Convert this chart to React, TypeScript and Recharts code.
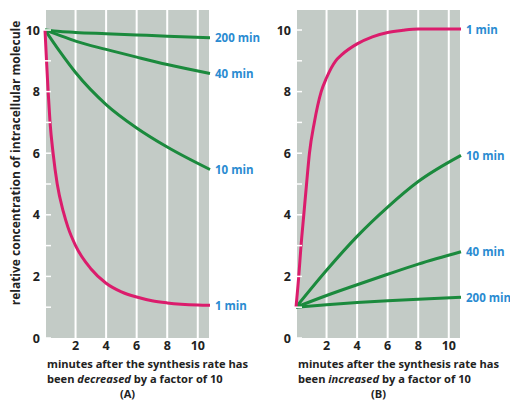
import { CartesianGrid, LabelList, Line, LineChart, XAxis, YAxis } from "recharts"

// (A) synthesis rate decreased 10x
const decTimeOne = [0, 0.1, 0.2, 0.33, 0.53, 0.8, 1.2, 1.5, 2, 3, 4, 5, 6, 7, 8, 10, 10.8]
const decOne = [10, 9.0, 8.05, 7.0, 6.0, 5.0, 4.1, 3.6, 3.0, 2.25, 1.78, 1.5, 1.33, 1.21, 1.14, 1.07, 1.06]
const decTime = [0, 1, 2, 4, 6, 8, 10.8]
const decTen = [10, 9.28, 8.62, 7.58, 6.82, 6.2, 5.47]
const decForty = [10, 9.82, 9.64, 9.37, 9.12, 8.88, 8.59]
const decTwoHundred = [10, 9.95, 9.92, 9.88, 9.84, 9.8, 9.75]

// (B) synthesis rate increased 10x
const incTimeOne = [0, 0.18, 0.33, 0.51, 0.69, 0.88, 1.2, 1.65, 2, 2.6, 3, 4, 5, 6, 7, 8, 10.8]
const incOne = [1, 2, 3, 4, 5, 6, 7, 8, 8.45, 9.0, 9.2, 9.55, 9.78, 9.92, 9.99, 10.03, 10.03]
const incTime = [0, 2, 4, 6, 8, 10.8]
const incTen = [1, 2.2, 3.3, 4.25, 5.08, 5.93]
const incForty = [1, 1.38, 1.73, 2.07, 2.4, 2.8]
const incTwoHundred = [1, 1.08, 1.15, 1.21, 1.26, 1.32]

const xTicks = [2, 4, 6, 8, 10]
const yTicks = [0, 1, 2, 3, 4, 5, 6, 7, 8, 9, 10]

const GREEN = "#1b8a3d"
const MAGENTA = "#db1c6c"
const BLUE = "#2a8bd1"
const GRAY = "#c3cbc6"
const FONT = "'Open Sans', sans-serif"

const toPoints = (time: number[], vals: number[], tag: string) =>
  time.map((t, i) => ({ t, v: vals[i], tag: i === time.length - 1 ? tag : undefined }))

type Series = { tag: string; time: number[]; values: number[]; color: string }

const seriesA: Series[] = [
  { tag: "200 min", time: decTime, values: decTwoHundred, color: GREEN },
  { tag: "40 min", time: decTime, values: decForty, color: GREEN },
  { tag: "10 min", time: decTime, values: decTen, color: GREEN },
  { tag: "1 min", time: decTimeOne, values: decOne, color: MAGENTA },
]

const seriesB: Series[] = [
  { tag: "200 min", time: incTime, values: incTwoHundred, color: GREEN },
  { tag: "40 min", time: incTime, values: incForty, color: GREEN },
  { tag: "10 min", time: incTime, values: incTen, color: GREEN },
  { tag: "1 min", time: incTimeOne, values: incOne, color: MAGENTA },
]

const YTick = (props: any) => {
  const { x, y, payload } = props
  const v = payload.value
  return (
    <g>
      <line x1={x + 3} x2={x + 11} y1={y} y2={y} stroke="#fff" strokeWidth={1.5} />
      {v % 2 === 0 && (
        <text x={x} y={y + 4.5} textAnchor="end" fill="#222" fontSize={12.5} fontWeight={700} fontFamily={FONT}>
          {v}
        </text>
      )}
    </g>
  )
}

const EndLabel = (props: any) => {
  const { value } = props
  if (!value) return null
  const x = props.x ?? props.viewBox?.x
  const y = props.y ?? props.viewBox?.y
  return (
    <text x={x + 5} y={y + 4.5} fill={BLUE} fontSize={11.5} fontWeight={700} fontFamily={FONT}>
      {value}
    </text>
  )
}

const textStyle = {
  fontFamily: FONT,
  fontWeight: 700,
  fontSize: 11.1,
  lineHeight: "15px",
  color: "#222",
  whiteSpace: "nowrap" as const,
}

const Panel = ({ left, series, word, letter }: { left: number; series: Series[]; word: string; letter: string }) => (
  <>
    <div style={{ position: "absolute", left, top: 0 }}>
      <LineChart width={270} height={402} margin={{ top: 10, right: 60, bottom: 44, left: 15 }}>
        <CartesianGrid fill={GRAY} fillOpacity={1} horizontal={false} stroke="#fff" strokeWidth={2} />
        <XAxis
          type="number"
          dataKey="t"
          domain={[0, 10.8]}
          ticks={xTicks}
          height={20}
          axisLine={false}
          tickLine={false}
          tickSize={0}
          tickMargin={3}
          tick={{ fill: "#222", fontSize: 12.5, fontWeight: 700, fontFamily: FONT }}
        />
        <YAxis
          type="number"
          domain={[0, 10.65]}
          ticks={yTicks}
          width={30}
          axisLine={false}
          tickLine={false}
          tickSize={0}
          tickMargin={5}
          interval={0}
          tick={YTick}
        />
        {series.map((s) => (
          <Line
            key={s.tag}
            data={toPoints(s.time, s.values, s.tag)}
            dataKey="v"
            type="monotone"
            stroke={s.color}
            strokeWidth={3}
            dot={false}
            activeDot={false}
            isAnimationActive={false}
          >
            <LabelList dataKey="tag" content={EndLabel} />
          </Line>
        ))}
      </LineChart>
    </div>
    <div style={{ ...textStyle, position: "absolute", left: left + 47, top: 356, width: 210 }}>
      minutes after the synthesis rate has
      <br />
      been <i>{word}</i> by a factor of 10
    </div>
    <div style={{ ...textStyle, position: "absolute", left: left + 45, width: 165, top: 386, textAlign: "center" }}>
      ({letter})
    </div>
  </>
)

export default function App() {
  return (
    <div
      style={{
        position: "absolute",
        left: 0,
        top: 0,
        width: 510,
        height: 402,
        overflow: "hidden",
        background: "#fff",
      }}
    >
      <Panel left={0} series={seriesA} word="decreased" letter="A" />
      <Panel left={251} series={seriesB} word="increased" letter="B" />
      <div
        style={{
          ...textStyle,
          fontSize: 12,
          position: "absolute",
          left: 16 - 150,
          top: 163 - 8,
          width: 300,
          height: 16,
          lineHeight: "16px",
          textAlign: "center",
          transform: "rotate(-90deg)",
        }}
      >
        relative concentration of intracellular molecule
      </div>
    </div>
  )
}
